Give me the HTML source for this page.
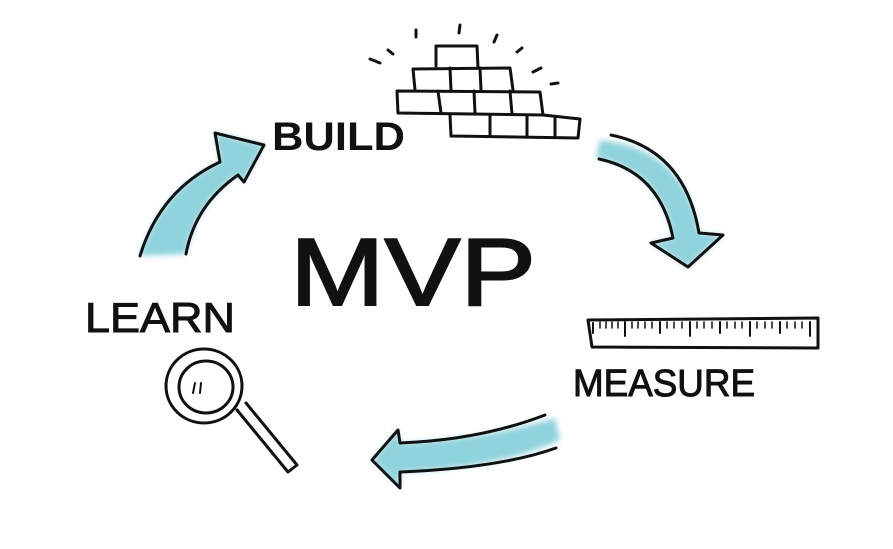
<!DOCTYPE html>
<html><head><style>
html,body{margin:0;padding:0;background:#fff;}
svg{display:block;}
text{font-family:"Liberation Sans",sans-serif;fill:#111;}
</style></head><body>
<svg width="893" height="549" viewBox="0 0 893 549" xmlns="http://www.w3.org/2000/svg">
<defs><filter id="b" x="-20%" y="-20%" width="140%" height="140%"><feGaussianBlur stdDeviation="3"/></filter></defs>
<rect width="893" height="549" fill="#fff"/>
<g fill="#8fd3dc" filter="url(#b)">
<path d="M140,256 Q160,190 220,162 L215,133 L264,145 L244,182 L238,175 Q195,205 186,254 Z"/>
<path d="M600,140 Q685,148 699,233 L723,235 L688,267 L651,243 L673,238 Q660,170 596,158 Z"/>
<path d="M555,418 Q480,440 400,443 L398,430 L372,460 L400,488 L400,472 Q500,468 560,440 Z"/>
</g>
<g fill="none" stroke="#111" stroke-width="3" stroke-linejoin="round" stroke-linecap="round">
<path d="M140,256 Q160,190 220,162 L215,133 L264,145 L244,182 L238,175 Q195,205 186,254"/>
<path d="M611,135 Q685,150 699,233 L723,235 L688,267 L651,243 L673,238 Q660,172 599,159"/>
<path d="M545,415 Q480,440 400,443 L398,430 L372,460 L400,488 L400,472 Q500,468 556,448"/>
<!-- bricks -->
<path d="M436,66 L436,46 L477,46 L478,68"/>
<path d="M415,90 L413,69 L510,68 L513,90"/>
<path d="M450,68 L451,90 M480,68 L481,90"/>
<path d="M398,113 L397,91 L540,92 L543,115 Z"/>
<path d="M438,91 L441,113 M474,91 L475,113 M510,91 L512,114"/>
<path d="M450,115 L451,136 L578,138 L580,119 L543,115"/>
<path d="M490,115 L490,136 M527,115 L527,137 M555,117 L555,137"/>
<path d="M380,63 L370,59 M388,50 L393,54 M416,30 L416,37 M460,25 L459,33 M497,35 L494,42 M522,48 L517,52 M541,68 L533,72 M558,83 L551,84"/>
<!-- ruler -->
<path d="M588,320 L818,318 L818,348 L592,347 Z"/>
<path d="M593,323 L593,333 M625,322 L625,336 M660,322 L660,333 M690,322 L690,336 M720,322 L720,333 M750,322 L750,336 M780,322 L780,333 M810,322 L810,336" stroke-width="2"/>
<path d="M600,322 L600,328 M606,322 L606,328 M612,322 L612,328 M618,322 L618,328 M632,322 L632,328 M638,322 L638,328 M645,322 L645,328 M652,322 L652,328 M667,322 L667,328 M674,322 L674,328 M682,322 L682,328 M697,322 L697,328 M704,322 L704,328 M712,322 L712,328 M727,322 L727,328 M735,322 L735,328 M742,322 L742,328 M757,322 L757,328 M765,322 L765,328 M772,322 L772,328 M787,322 L787,328 M795,322 L795,328 M802,322 L802,328" stroke-width="1.5"/>
<!-- magnifier -->
<ellipse cx="204" cy="386" rx="38" ry="37"/>
<ellipse cx="206" cy="387" rx="27" ry="26"/>
<path d="M237,410 L288,472 L297,465 L246,403"/>
<path d="M193,393 L195,383 M200,393 L201,383" stroke-width="2"/>
</g>
<text x="272" y="150" font-size="40" font-weight="bold" textLength="133" lengthAdjust="spacingAndGlyphs">BUILD</text>
<text x="290" y="305" font-size="96" textLength="246" lengthAdjust="spacingAndGlyphs" style="stroke:#111;stroke-width:2">MVP</text>
<text x="85" y="332" font-size="42" textLength="150" lengthAdjust="spacingAndGlyphs" style="stroke:#111;stroke-width:1">LEARN</text>
<text x="573" y="396" font-size="38" textLength="182" lengthAdjust="spacingAndGlyphs" style="stroke:#111;stroke-width:1">MEASURE</text>
</svg>
</body></html>
